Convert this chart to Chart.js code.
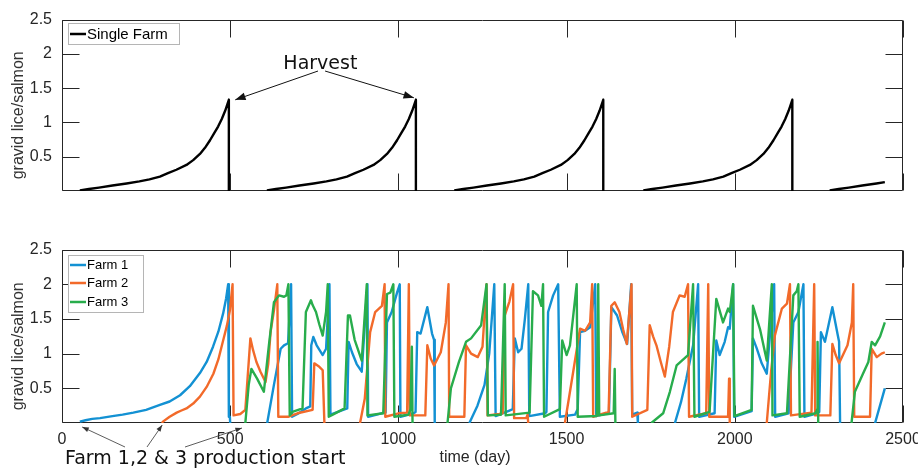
<!DOCTYPE html>
<html>
<head>
<meta charset="utf-8">
<script src="https://cdn.jsdelivr.net/npm/chart.js@4.4.1/dist/chart.umd.min.js"></script>
<style>
  body { margin: 0; background: #fff; }
  #wrap { position: relative; width: 918px; height: 468px; }
  canvas { position: absolute; left: 0; }
  #top-chart { top: 0; }
  #bottom-chart { top: 230px; }
</style>
</head>
<body>
<div id="wrap">
  <canvas id="top-chart" width="918" height="230"></canvas>
  <canvas id="bottom-chart" width="918" height="238"></canvas>
</div>
<script>
// axis ticks
var xTicks = [0, 500, 1000, 1500, 2000, 2500];
var yTicks = [0.5, 1, 1.5, 2, 2.5];

// single farm: gravid lice per salmon (null = fallow gap)
var singleDays = [
  53, 80, 110, 150, 192, 230, 260, 291, 315, 340, 370, 390, 410, 425, 440, 452, 464, 475, 485, 492, 496, 496, null,
  609, 636, 666, 706, 748, 786, 816, 847, 871, 896, 926, 946, 966, 981, 996, 1008, 1020, 1031, 1041, 1048, 1052, 1052, null,
  1166, 1193, 1223, 1263, 1305, 1343, 1373, 1404, 1428, 1453, 1483, 1503, 1523, 1538, 1553, 1565, 1577, 1588, 1598, 1605, 1609, 1609, null,
  1728, 1755, 1785, 1825, 1867, 1905, 1935, 1966, 1990, 2015, 2045, 2065, 2085, 2100, 2115, 2127, 2139, 2150, 2160, 2167, 2171, 2171, null,
  2282, 2309, 2339, 2379, 2421, 2446
];
var singleLice = [
  0.01, 0.03, 0.05, 0.08, 0.11, 0.14, 0.17, 0.21, 0.26, 0.31, 0.38, 0.45, 0.54, 0.63, 0.74, 0.84, 0.94, 1.05, 1.17, 1.27, 1.33, 0, null,
  0.01, 0.03, 0.05, 0.08, 0.11, 0.14, 0.17, 0.21, 0.26, 0.31, 0.38, 0.45, 0.54, 0.63, 0.74, 0.84, 0.94, 1.05, 1.17, 1.27, 1.33, 0, null,
  0.01, 0.03, 0.05, 0.08, 0.11, 0.14, 0.17, 0.21, 0.26, 0.31, 0.38, 0.45, 0.54, 0.63, 0.74, 0.84, 0.94, 1.05, 1.17, 1.27, 1.33, 0, null,
  0.01, 0.03, 0.05, 0.08, 0.11, 0.14, 0.17, 0.21, 0.26, 0.31, 0.38, 0.45, 0.54, 0.63, 0.74, 0.84, 0.94, 1.05, 1.17, 1.27, 1.33, 0, null,
  0.01, 0.03, 0.05, 0.08, 0.11, 0.13
];

var farmNames = ["Farm 1", "Farm 2", "Farm 3"];
var farmColors = ["#1391d3", "#f26a2a", "#28ad4c"];

var farm1Days = [
  53, 70, 90, 113, 150, 180, 212, 250, 291, 320, 351, 380, 410, 430, 449, 465, 479, 488, 494, 496, 499, 500, null,
  610, 630, 650, 660, 672, 681, 684, 700, 725, 738, 741, 747, 757, 775, 785, 795, 798, 820, 848, 852, 862, 876, 891,
  908, 910, 950, 962, 966, 980, 996, 1004, 1006, 1045, 1051, 1056, 1066, 1086, 1100, 1106, 1108, null,
  1211, 1235, 1256, 1270, 1285, 1289, 1330, 1340, 1346, 1356, 1366, 1376, 1386, 1389, 1436, 1440, 1445, 1460, 1475,
  1480, 1525, 1533, 1540, 1555, 1570, 1585, 1588, 1620, 1626, 1633, 1650, 1665, 1680, 1692, 1695, 1710, 1712, null,
  1822, 1840, 1856, 1876, 1891, 1894, 1940, 1945, 1955, 1970, 1980, 1985, 1995, 1998, 2050, 2054, 2065, 2080, 2095, 2117,
  2120, 2160, 2174, 2189, 2204, 2207, 2245, 2251, 2256, 2268, 2290, 2306, 2310, 2313, null,
  2417, 2446
];
var farm1Lice = [
  0.02, 0.04, 0.06, 0.07, 0.10, 0.12, 0.15, 0.19, 0.26, 0.31, 0.40, 0.53, 0.72, 0.88, 1.10, 1.32, 1.58, 1.80, 2.0, 0.09, 0.09, 0, null,
  0, 0.55, 1.07, 1.12, 1.15, 2.0, 0.09, 0.13, 0.21, 0.24, 1.12, 1.24, 1.12, 0.98, 1.07, 2.0, 0.12, 0.16, 0.21, 1.17, 1.02, 0.85, 0.74,
  2.0, 0.09, 0.14, 0.15, 1.45, 1.6, 1.88, 2.0, 0.09, 0.14, 0.16, 1.31, 1.29, 1.67, 1.29, 1.2, 0, null,
  0, 0.25, 0.55, 1.0, 2.0, 0.1, 0.18, 0.2, 1.22, 1.02, 1.07, 1.5, 2.0, 0.1, 0.14, 0.16, 1.6, 1.84, 2.0,
  0.09, 0.12, 0.2, 1.31, 1.33, 1.38, 2.0, 0.1, 0.14, 0.16, 1.67, 1.55, 1.32, 1.14, 2.0, 0.12, 0.15, 0, null,
  0, 0.3, 0.64, 1.12, 2.0, 0.09, 0.14, 1.19, 0.98, 1.17, 1.38, 1.36, 2.0, 0.09, 0.17, 1.22, 1.08, 0.86, 0.71, 2.0,
  0.09, 0.14, 1.45, 1.6, 2.0, 0.09, 0.14, 0.16, 1.31, 1.17, 1.67, 1.27, 1.17, 0, null,
  0, 0.5
];

var farm2Days = [
  297, 300, 320, 341, 355, 370, 390, 410, 430, 450, 465, 479, 490, 499, 507, 510, 530, 545, 560, 568, 578, 590, 605,
  613, 620, 630, 640, 643, 672, 700, 745, 750, 765, 775, 780, null,
  886, 900, 916, 931, 951, 959, 961, 1000, 1026, 1031, 1034, 1080, 1086, 1096, 1106, 1126, 1141, 1149, 1151, 1196,
  1201, 1216, 1236, 1250, 1262, 1265, 1300, 1310, 1316, 1330, 1341, 1344, 1380, 1384, 1386, null,
  1495, 1520, 1540, 1555, 1570, 1576, 1579, 1625, 1633, 1643, 1657, 1668, 1679, 1693, 1695, 1740, 1747, 1757, 1767,
  1780, 1792, 1805, 1816, 1836, 1851, 1861, 1864, 1915, 1921, 1924, 1980, 1983, 1985, null,
  2095, 2108, 2119, 2140, 2155, 2164, 2167, 2228, 2236, 2239, 2284, 2290, 2300, 2310, 2335, 2348, 2352, 2355, 2402, 2407,
  2422, 2436, 2446
];
var farm2Lice = [
  0, 0.02, 0.09, 0.15, 0.18, 0.21, 0.28, 0.38, 0.52, 0.71, 0.92, 1.19, 1.40, 1.62, 2.0, 0.11, 0.13, 0.19, 1.22, 1.05, 0.88, 0.74, 0.59,
  0.85, 1.31, 1.62, 2.0, 0.09, 0.09, 0.14, 0.19, 0.86, 0.81, 0.76, 0, null,
  0, 0.35, 1.31, 1.6, 1.69, 2.0, 0.09, 0.14, 0.15, 2.0, 0.11, 0.11, 1.12, 0.93, 0.83, 1.02, 1.45, 2.0, 0.09, 0.09,
  1.12, 1.0, 0.95, 1.1, 2.0, 0.11, 0.13, 0.14, 1.55, 1.75, 2.0, 0.07, 0.07, 0.12, 0, null,
  0, 0.75, 1.36, 1.33, 1.45, 2.0, 0.09, 0.16, 1.69, 1.74, 1.6, 1.35, 1.14, 2.0, 0.09, 0.19, 1.41, 1.25, 1.12,
  0.88, 0.67, 1.1, 1.6, 1.84, 1.82, 2.0, 0.09, 0.14, 2.0, 0.09, 0.09, 0.64, 0, null,
  0, 0.75, 1.26, 1.65, 1.72, 2.0, 0.11, 0.15, 2.0, 0.11, 0.11, 1.14, 0.98, 0.86, 1.12, 1.45, 2.0, 0.09, 0.09, 1.07,
  0.95, 1.0, 1.02
];

var farm3Days = [
  545, 555, 563, 580, 600, 615, 630, 645, 660, 667, 673, 677, 685, 715, 725, 740, 745, 755, 765, 775, 785, 790,
  793, 805, 840, 850, 856, 870, 891, 906, 908, 955, 966, 976, 985, 988, 1030, 1036, 1040, 1042, null,
  1146, 1156, 1180, 1201, 1216, 1246, 1262, 1266, 1305, 1316, 1319, 1390, 1400, 1415, 1425, 1430, 1433, 1480,
  1487, 1500, 1510, 1530, 1533, 1590, 1594, 1597, 1640, 1643, 1645, null,
  1752, 1787, 1807, 1827, 1861, 1876, 1880, 1925, 1945, 1965, 1980, 1985, 1995, 1999, 2050, 2054, 2075,
  2095, 2110, 2112, 2155, 2174, 2184, 2189, 2193, 2240, 2245, 2246, 2248, null,
  2347, 2357, 2380, 2397, 2407, 2417, 2432, 2446
];
var farm3Lice = [
  0, 0.55, 0.78, 0.64, 0.45, 1.12, 1.74, 1.84, 1.82, 1.84, 2.0, 0.11, 0.16, 0.21, 1.6, 1.77, 1.7, 1.6, 1.42, 1.26, 1.6, 2.0,
  0.09, 0.12, 0.21, 1.55, 1.55, 1.2, 0.9, 2.0, 0.11, 0.14, 1.86, 1.88, 2.0, 0.09, 0.12, 0.2, 1.1, 0, null,
  0, 0.5, 0.88, 1.17, 1.22, 1.41, 2.0, 0.11, 0.12, 2.0, 0.11, 0.15, 1.9, 1.84, 1.69, 2.0, 0.09, 0.2,
  1.19, 0.98, 1.12, 2.0, 0.09, 0.1, 2.0, 0.11, 0.14, 0.78, 0, null,
  0, 0.14, 0.45, 0.83, 0.98, 2.0, 0.09, 0.16, 1.79, 1.45, 1.65, 1.6, 2.0, 0.1, 0.19, 1.69, 1.35,
  0.9, 2.0, 0.11, 0.14, 1.84, 1.9, 2.0, 0.09, 0.14, 0.2, 1.17, 0, null,
  0, 0.45, 0.7, 0.88, 1.17, 1.12, 1.25, 1.45
];

var tickFont = { family: "'Liberation Sans', Arial, sans-serif", size: 16 };
var tickLen = 17;

function toPoints(days, lice) {
  return days.map(function(d, i) {
    return { x: d, y: lice[i] };
  });
}

function plainLabel(v) {
  return String(v);
}

function scaleOptions(showX, xHeight) {
  return {
    x: {
      type: "linear",
      min: 0,
      max: 2500,
      afterBuildTicks: function(s) {
        s.ticks = xTicks.map(function(v) { return { value: v }; });
      },
      afterFit: function(s) {
        s.height = xHeight;
        s.paddingLeft = 0;
        s.paddingRight = 0;
      },
      grid: { display: false, drawTicks: false },
      border: { display: false },
      ticks: { display: showX, font: tickFont, color: "#262626", padding: 7, maxRotation: 0, callback: plainLabel }
    },
    y: {
      min: 0,
      max: 2.5,
      afterBuildTicks: function(s) {
        s.ticks = yTicks.map(function(v) { return { value: v }; });
      },
      afterFit: function(s) {
        s.width = 62;
      },
      grid: { display: false, drawTicks: false },
      border: { display: false },
      ticks: { font: tickFont, color: "#262626", padding: 10, callback: plainLabel }
    }
  };
}

// box + inward ticks on all four sides (matlab style)
function drawBox(chart) {
  var ctx = chart.ctx, a = chart.chartArea;
  var xs = chart.scales.x, ys = chart.scales.y;
  var l = Math.round(a.left) + 0.5, r = Math.round(a.right) - 0.5;
  var t = Math.round(a.top) + 0.5, b = Math.round(a.bottom) - 0.5;
  ctx.save();
  ctx.strokeStyle = "#262626";
  ctx.lineWidth = 1;
  ctx.beginPath();
  ctx.rect(l, t, r - l, b - t);
  xTicks.forEach(function(v) {
    var px = Math.round(xs.getPixelForValue(v)) + 0.5;
    ctx.moveTo(px, b); ctx.lineTo(px, b - tickLen);
    ctx.moveTo(px, t); ctx.lineTo(px, t + tickLen);
  });
  yTicks.forEach(function(v) {
    var py = Math.round(ys.getPixelForValue(v)) + 0.5;
    ctx.moveTo(l, py); ctx.lineTo(l + tickLen, py);
    ctx.moveTo(r, py); ctx.lineTo(r - tickLen, py);
  });
  ctx.stroke();
  ctx.restore();
}

function arrow(ctx, x1, y1, x2, y2, head) {
  var ang = Math.atan2(y2 - y1, x2 - x1);
  ctx.beginPath();
  ctx.moveTo(x1, y1);
  ctx.lineTo(x2, y2);
  ctx.stroke();
  ctx.beginPath();
  ctx.moveTo(x2, y2);
  ctx.lineTo(x2 - head * Math.cos(ang - 0.35), y2 - head * Math.sin(ang - 0.35));
  ctx.lineTo(x2 - head * Math.cos(ang + 0.35), y2 - head * Math.sin(ang + 0.35));
  ctx.closePath();
  ctx.fill();
}

function drawYTitle(chart) {
  var ctx = chart.ctx, a = chart.chartArea;
  ctx.save();
  ctx.translate(19, (a.top + a.bottom) / 2 + 10);
  ctx.rotate(-Math.PI / 2);
  ctx.font = "16px 'Liberation Sans', Arial, sans-serif";
  ctx.fillStyle = "#333";
  ctx.textAlign = "center";
  ctx.textBaseline = "middle";
  ctx.fillText("gravid lice/salmon", 0, 0);
  ctx.restore();
}

function drawLegend(ctx, x, y, w, h, rowY, names, colors, fontPx) {
  ctx.save();
  ctx.fillStyle = "#fff";
  ctx.fillRect(x, y, w, h);
  ctx.strokeStyle = "#b5b5b5";
  ctx.lineWidth = 1;
  ctx.strokeRect(x + 0.5, y + 0.5, w, h);
  ctx.font = fontPx + "px 'Liberation Sans', Arial, sans-serif";
  ctx.textBaseline = "middle";
  names.forEach(function(n, i) {
    ctx.strokeStyle = colors[i];
    ctx.lineWidth = 2.5;
    ctx.beginPath();
    ctx.moveTo(x + 2, rowY[i]);
    ctx.lineTo(x + 18, rowY[i]);
    ctx.stroke();
    ctx.fillStyle = "#000";
    ctx.fillText(n, x + 19, rowY[i] + 0.5);
  });
  ctx.restore();
}

var topNotes = {
  id: "topNotes",
  beforeDatasetsDraw: function(chart) {
    drawBox(chart);
  },
  afterDatasetsDraw: function(chart) {
    var ctx = chart.ctx, xs = chart.scales.x, ys = chart.scales.y;
    drawYTitle(chart);
    drawLegend(ctx, 68, 23, 111, 21, [34], ["Single Farm"], ["#000"], 15);
    ctx.save();
    ctx.font = "19px 'DejaVu Sans', sans-serif";
    ctx.fillStyle = "#111";
    ctx.textAlign = "center";
    ctx.fillText("Harvest", xs.getPixelForValue(768), ys.getPixelForValue(1.78));
    ctx.strokeStyle = "#111";
    ctx.fillStyle = "#111";
    ctx.lineWidth = 1;
    arrow(ctx, xs.getPixelForValue(761), ys.getPixelForValue(1.75),
      xs.getPixelForValue(515), ys.getPixelForValue(1.33), 11);
    arrow(ctx, xs.getPixelForValue(782), ys.getPixelForValue(1.75),
      xs.getPixelForValue(1046), ys.getPixelForValue(1.36), 11);
    ctx.restore();
  }
};

var bottomNotes = {
  id: "bottomNotes",
  beforeDatasetsDraw: function(chart) {
    drawBox(chart);
  },
  afterDatasetsDraw: function(chart) {
    var ctx = chart.ctx, xs = chart.scales.x, a = chart.chartArea;
    drawYTitle(chart);
    drawLegend(ctx, 68, 25, 75, 57, [35, 53, 72], farmNames, farmColors, 13);
    ctx.save();
    ctx.font = "16px 'Liberation Sans', Arial, sans-serif";
    ctx.fillStyle = "#262626";
    ctx.textAlign = "center";
    ctx.fillText("time (day)", 475, 232);
    ctx.font = "19px 'DejaVu Sans', sans-serif";
    ctx.fillStyle = "#111";
    ctx.textAlign = "left";
    ctx.fillText("Farm 1,2 & 3 production start", 65, 234);
    ctx.strokeStyle = "#333";
    ctx.fillStyle = "#333";
    ctx.lineWidth = 0.8;
    arrow(ctx, 125, 217, xs.getPixelForValue(60), a.bottom + 4, 7);
    arrow(ctx, 147, 217, xs.getPixelForValue(298), a.bottom + 2, 7);
    arrow(ctx, 185, 217, xs.getPixelForValue(535), a.bottom + 5, 7);
    ctx.restore();
  }
};

new Chart(document.getElementById("top-chart"), {
  type: "scatter",
  data: {
    datasets: [
      {
        label: "Single Farm",
        data: toPoints(singleDays, singleLice),
        showLine: true,
        borderColor: "#000",
        borderWidth: 2.4,
        pointRadius: 0,
        borderJoinStyle: "round"
      }
    ]
  },
  options: {
    responsive: false,
    animation: false,
    layout: { padding: { top: 18, right: 15, left: 0, bottom: 0 } },
    plugins: { legend: { display: false }, tooltip: { enabled: false } },
    scales: scaleOptions(false, 39)
  },
  plugins: [topNotes]
});

var farmData = [
  toPoints(farm1Days, farm1Lice),
  toPoints(farm2Days, farm2Lice),
  toPoints(farm3Days, farm3Lice)
];

new Chart(document.getElementById("bottom-chart"), {
  type: "scatter",
  data: {
    datasets: farmNames.map(function(n, i) {
      return {
        label: n,
        data: farmData[i],
        showLine: true,
        borderColor: farmColors[i],
        borderWidth: 2.4,
        pointRadius: 0,
        borderJoinStyle: "round",
        order: 2 - i  // farm 3 drawn last, on top
      };
    })
  },
  options: {
    responsive: false,
    animation: false,
    layout: { padding: { top: 19, right: 15, left: 0, bottom: 0 } },
    plugins: { legend: { display: false }, tooltip: { enabled: false } },
    scales: scaleOptions(true, 45)
  },
  plugins: [bottomNotes]
});
</script>
</body>
</html>
